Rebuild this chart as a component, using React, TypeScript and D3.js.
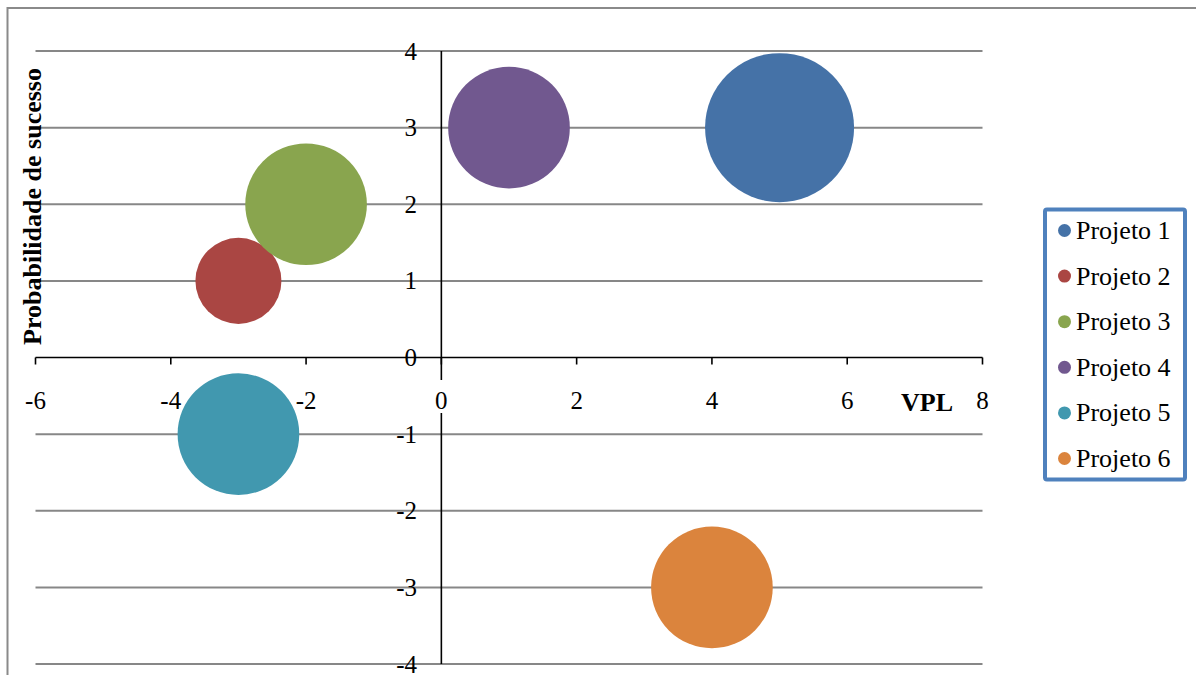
import React from "react";
import * as d3 from "d3";

const seriesNames = ["Projeto 1", "Projeto 2", "Projeto 3", "Projeto 4", "Projeto 5", "Projeto 6"];
const vplValues = [5, -3, -2, 1, -3, 4];
const probValues = [3, 1, 2, 3, -1, -3];
const bubbleSizes = [3, 1, 2, 2, 2, 2];
const seriesColors = ["#4572A7", "#AA4643", "#89A54E", "#71588F", "#4198AF", "#DB843D"];
const xTicks = [-6, -4, -2, 0, 2, 4, 6, 8];
const yTicks = [-4, -3, -2, -1, 0, 1, 2, 3, 4];

const W = 1196;
const H = 675;
const FONT = "Liberation Serif, Times New Roman, serif";
const ts = { fontFamily: FONT };

export default function App() {
  const x = d3.scaleLinear().domain([-6, 8]).range([35.5, 982.5]);
  const y = d3.scaleLinear().domain([-4, 4]).range([664, 51]);
  const r = d3.scaleSqrt().domain([0, 3]).range([0, 74.5]);
  const x0 = x(0);
  const y0 = y(0);

  return (
    <svg
      width={W}
      height={H}
      style={{ position: "absolute", left: 0, top: 0, display: "block", background: "#fff", fontFamily: FONT }}
    >
      <rect x={0} y={0} width={W} height={H} fill="#fff" />
      <rect x={7.5} y={8} width={W + 20} height={H + 20} fill="none" stroke="#8a8a8a" strokeWidth={2} />

      {yTicks
        .filter((t) => t !== 0)
        .map((t) => (
          <line key={"g" + t} x1={x(-6)} x2={x(8)} y1={y(t)} y2={y(t)} stroke="#878787" strokeWidth={2} />
        ))}

      <line x1={x0} x2={x0} y1={y(4)} y2={380} stroke="#000" strokeWidth={1.6} />
      <line x1={x0} x2={x0} y1={413} y2={y(-4)} stroke="#000" strokeWidth={1.6} />

      <line x1={x(-6)} x2={x(8)} y1={y0} y2={y0} stroke="#000" strokeWidth={1.6} />
      {xTicks.map((t) => (
        <line key={"xt" + t} x1={x(t)} x2={x(t)} y1={y0} y2={y0 + 7} stroke="#000" strokeWidth={1.6} />
      ))}

      {seriesNames.map((n, i) => (
        <circle key={n} cx={x(vplValues[i])} cy={y(probValues[i])} r={r(bubbleSizes[i])} fill={seriesColors[i]} />
      ))}

      {xTicks.map((t) => (
        <text key={"xl" + t} x={x(t)} y={409} fontSize={25} textAnchor="middle" fill="#000" style={ts}>
          {t}
        </text>
      ))}

      {yTicks.map((t) => (
        <text key={"yl" + t} x={417} y={y(t) + 8.5} fontSize={25} textAnchor="end" fill="#000" style={ts}>
          {t}
        </text>
      ))}

      <text x={901} y={411} fontSize={26} fontWeight="bold" fill="#000" style={ts}>
        VPL
      </text>
      <text
        transform={`translate(41, 206.5) rotate(-90)`}
        fontSize={26}
        fontWeight="bold"
        textAnchor="middle"
        fill="#000"
        style={ts}
      >
        Probabilidade de sucesso
      </text>

      <rect x={1045} y={209.5} width={140} height={270} fill="#fff" stroke="#4F81BD" strokeWidth={4} rx={2} />
      {seriesNames.map((n, i) => {
        const cy = 230.5 + i * 45.6;
        return (
          <g key={"lg" + n}>
            <circle cx={1064.5} cy={cy} r={6.5} fill={seriesColors[i]} />
            <text x={1076} y={cy + 8.5} fontSize={26} fill="#000" style={ts}>
              {n}
            </text>
          </g>
        );
      })}
    </svg>
  );
}
